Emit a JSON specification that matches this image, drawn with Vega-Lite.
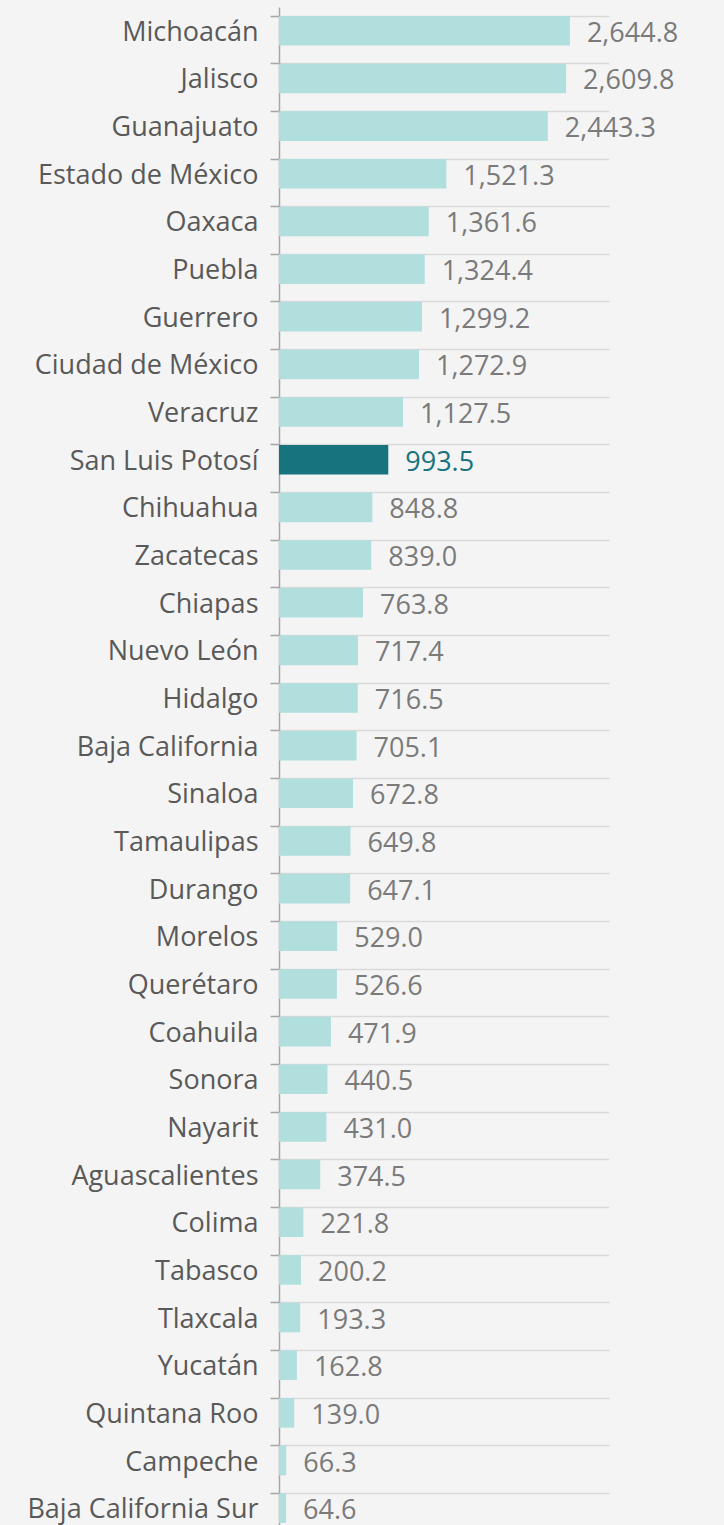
{
  "$schema": "https://vega.github.io/schema/vega-lite/v6.json",
  "width": 330,
  "height": 1525,
  "autosize": {"type": "none"},
  "padding": {"left": 279, "top": 7, "right": 115, "bottom": 0},
  "background": "#f4f4f4",
  "config": {"view": {"stroke": null}, "font": "Open Sans"},
  "data": {"values": [
    {"estado": "Michoacán", "valor": 2644.8, "hl": "no"},
    {"estado": "Jalisco", "valor": 2609.8, "hl": "no"},
    {"estado": "Guanajuato", "valor": 2443.3, "hl": "no"},
    {"estado": "Estado de México", "valor": 1521.3, "hl": "no"},
    {"estado": "Oaxaca", "valor": 1361.6, "hl": "no"},
    {"estado": "Puebla", "valor": 1324.4, "hl": "no"},
    {"estado": "Guerrero", "valor": 1299.2, "hl": "no"},
    {"estado": "Ciudad de México", "valor": 1272.9, "hl": "no"},
    {"estado": "Veracruz", "valor": 1127.5, "hl": "no"},
    {"estado": "San Luis Potosí", "valor": 993.5, "hl": "yes"},
    {"estado": "Chihuahua", "valor": 848.8, "hl": "no"},
    {"estado": "Zacatecas", "valor": 839.0, "hl": "no"},
    {"estado": "Chiapas", "valor": 763.8, "hl": "no"},
    {"estado": "Nuevo León", "valor": 717.4, "hl": "no"},
    {"estado": "Hidalgo", "valor": 716.5, "hl": "no"},
    {"estado": "Baja California", "valor": 705.1, "hl": "no"},
    {"estado": "Sinaloa", "valor": 672.8, "hl": "no"},
    {"estado": "Tamaulipas", "valor": 649.8, "hl": "no"},
    {"estado": "Durango", "valor": 647.1, "hl": "no"},
    {"estado": "Morelos", "valor": 529.0, "hl": "no"},
    {"estado": "Querétaro", "valor": 526.6, "hl": "no"},
    {"estado": "Coahuila", "valor": 471.9, "hl": "no"},
    {"estado": "Sonora", "valor": 440.5, "hl": "no"},
    {"estado": "Nayarit", "valor": 431.0, "hl": "no"},
    {"estado": "Aguascalientes", "valor": 374.5, "hl": "no"},
    {"estado": "Colima", "valor": 221.8, "hl": "no"},
    {"estado": "Tabasco", "valor": 200.2, "hl": "no"},
    {"estado": "Tlaxcala", "valor": 193.3, "hl": "no"},
    {"estado": "Yucatán", "valor": 162.8, "hl": "no"},
    {"estado": "Quintana Roo", "valor": 139.0, "hl": "no"},
    {"estado": "Campeche", "valor": 66.3, "hl": "no"},
    {"estado": "Baja California Sur", "valor": 64.6, "hl": "no"}
  ]},
  "encoding": {
    "y": {
      "field": "estado", "type": "nominal", "sort": null,
      "scale": {"paddingInner": 0.38, "paddingOuter": 0.19},
      "axis": {
        "title": null,
        "bandPosition": 0,
        "grid": true, "gridColor": "#d9d9d9", "gridWidth": 1.5,
        "domainColor": "#a6a6a6", "domainWidth": 1.5,
        "tickColor": "#a6a6a6", "tickWidth": 1.5, "tickSize": 9,
        "labelPadding": 12, "labelFontSize": 27, "labelColor": "#595959",
        "labelFont": "Open Sans", "labelLimit": 400, "labelOffset": 2
      }
    },
    "x": {
      "field": "valor", "type": "quantitative",
      "scale": {"domain": [0, 3000]},
      "axis": null
    }
  },
  "layer": [
    {
      "mark": {"type": "bar"},
      "encoding": {
        "color": {
          "field": "hl", "type": "nominal",
          "scale": {"domain": ["no", "yes"], "range": ["#b0dfdd", "#17737e"]},
          "legend": null
        }
      }
    },
    {
      "mark": {"type": "text", "align": "left", "baseline": "middle", "dx": 17, "dy": 3, "fontSize": 27, "font": "Open Sans"},
      "encoding": {
        "text": {"field": "valor", "type": "quantitative", "format": ",.1f"},
        "color": {
          "field": "hl", "type": "nominal",
          "scale": {"domain": ["no", "yes"], "range": ["#7a7a7a", "#17737e"]},
          "legend": null
        }
      }
    }
  ],
  "resolve": {"scale": {"color": "independent"}}
}
